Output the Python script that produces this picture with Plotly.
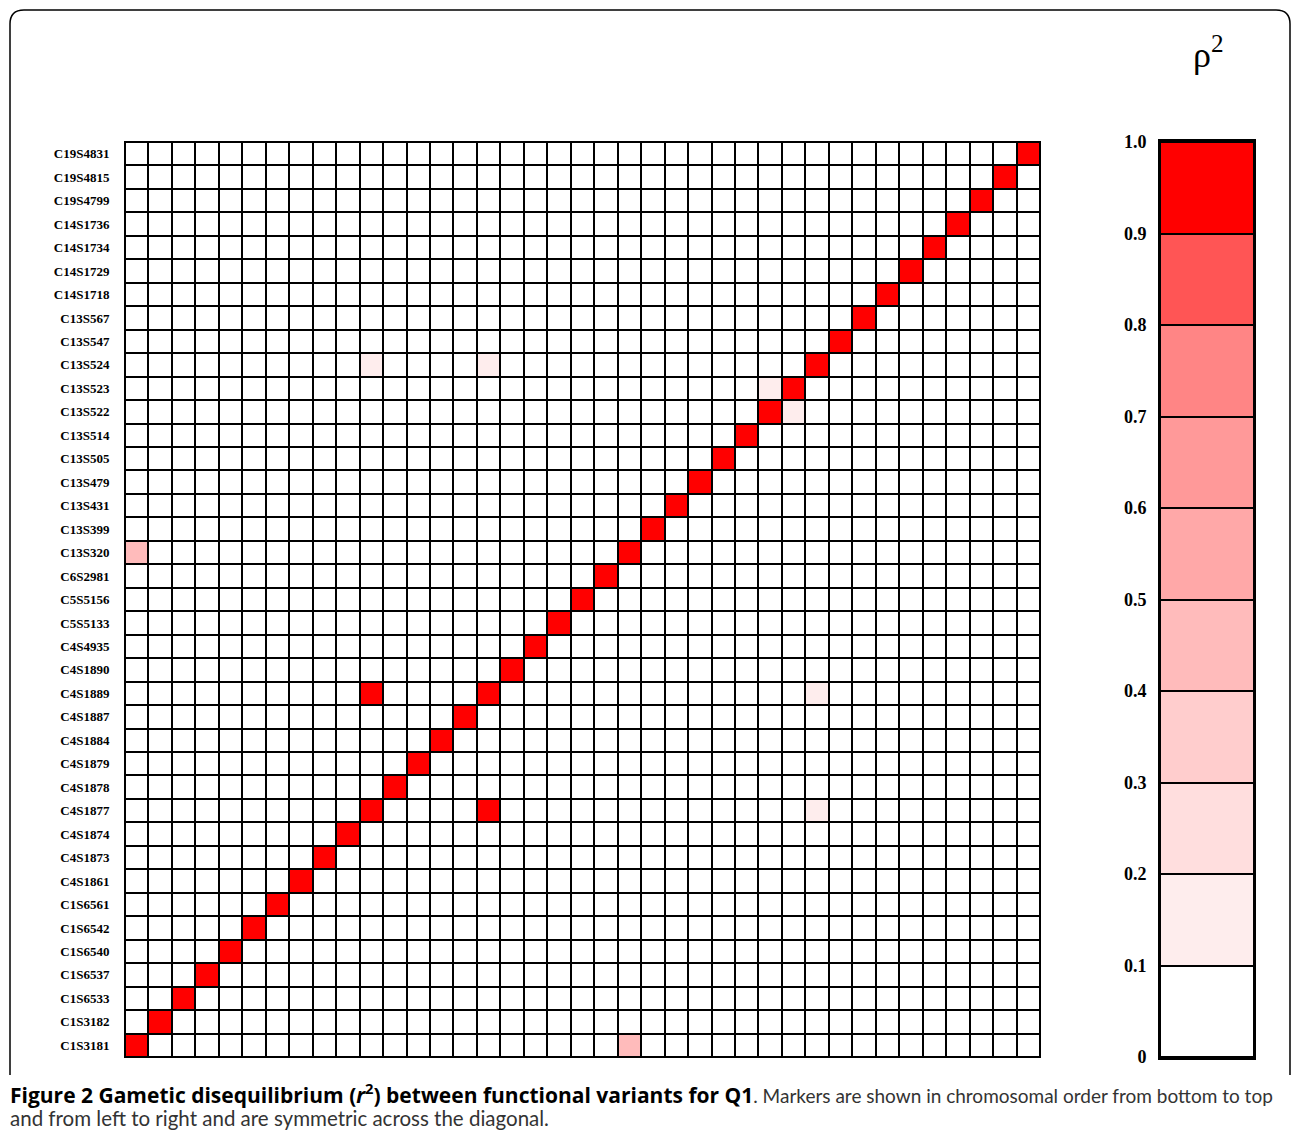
import plotly.graph_objects as go

# Markers, bottom (first) to top (last) / left to right
markers = [
    "C1S3181", "C1S3182", "C1S6533", "C1S6537", "C1S6540", "C1S6542", "C1S6561",
    "C4S1861", "C4S1873", "C4S1874", "C4S1877", "C4S1878", "C4S1879", "C4S1884",
    "C4S1887", "C4S1889", "C4S1890", "C4S4935", "C5S5133", "C5S5156", "C6S2981",
    "C13S320", "C13S399", "C13S431", "C13S479", "C13S505", "C13S514", "C13S522",
    "C13S523", "C13S524", "C13S547", "C13S567", "C14S1718", "C14S1729", "C14S1734",
    "C14S1736", "C19S4799", "C19S4815", "C19S4831",
]

# Off-diagonal pairs with non-negligible r^2 (symmetric)
pair_a = ["C13S320", "C13S524", "C13S524", "C13S523", "C4S1889"]
pair_b = ["C1S3181", "C4S1877", "C4S1889", "C13S522", "C4S1877"]
pair_r2 = [0.45, 0.15, 0.15, 0.15, 1.0]
diag_r2 = 1.0

# Legend bands
band_colors = ["#FFFFFF", "#FEEDED", "#FFDEDE", "#FFCDCD", "#FFBBBB",
               "#FFA8A8", "#FF9999", "#FF8585", "#FF5555", "#FF0000"]
band_mids = [0.05, 0.15, 0.25, 0.35, 0.45, 0.55, 0.65, 0.75, 0.85, 0.95]
band_ticks = [0, 0.1, 0.2, 0.3, 0.4, 0.5, 0.6, 0.7, 0.8, 0.9, 1.0]
band_ticktext = ["0", "0.1", "0.2", "0.3", "0.4", "0.5", "0.6", "0.7", "0.8", "0.9", "1.0"]

n = len(markers)
idx = {m: i for i, m in enumerate(markers)}
z = [[0.0] * n for _ in range(n)]
for i in range(n):
    z[i][i] = diag_r2
for a, b, v in zip(pair_a, pair_b, pair_r2):
    z[idx[a]][idx[b]] = v
    z[idx[b]][idx[a]] = v

colorscale = []
for i, c in enumerate(band_colors):
    colorscale.append([i / 10, c])
    colorscale.append([(i + 1) / 10, c])

W, H = 1292, 1134
def px(x):
    return x / W
def py(y):
    return 1 - y / H

fig = go.Figure()
fig.add_trace(go.Heatmap(
    z=z, x=markers, y=markers, colorscale=colorscale, zmin=0, zmax=1,
    xgap=2, ygap=2, showscale=False, hoverinfo="skip",
    xaxis="x", yaxis="y",
))
fig.add_trace(go.Heatmap(
    z=[[v] for v in band_mids], x=[0], y=band_mids, colorscale=colorscale,
    zmin=0, zmax=1, ygap=2, showscale=False, hoverinfo="skip",
    xaxis="x2", yaxis="y2",
))

serif = "Liberation Serif"
fig.update_layout(
    width=W, height=H,
    margin=dict(l=0, r=0, t=0, b=0, pad=0, autoexpand=False),
    paper_bgcolor="white", plot_bgcolor="black",
    showlegend=False,
    xaxis=dict(domain=[px(125), px(1040)], type="category", showticklabels=False,
               ticks="", showgrid=False, zeroline=False, showline=True, mirror=True,
               linecolor="black", linewidth=1, automargin=False),
    yaxis=dict(domain=[py(1057), py(142)], type="category", ticks="",
               showgrid=False, zeroline=False, showline=True, mirror=True,
               linecolor="black", linewidth=1, ticklabelstandoff=12, automargin=False,
               tickfont=dict(family=serif, size=13, color="black", weight="bold")),
    xaxis2=dict(domain=[px(1161), px(1253)], showticklabels=False, ticks="",
                showgrid=False, zeroline=False, showline=True, mirror=True,
                linecolor="black", linewidth=3, anchor="y2", range=[-0.5, 0.5],
                automargin=False),
    yaxis2=dict(domain=[py(1057), py(142)], anchor="x2", range=[0, 1],
                tickvals=band_ticks, ticktext=band_ticktext, ticks="",
                showgrid=False, zeroline=False, showline=True, mirror=True,
                linecolor="black", linewidth=3, ticklabelstandoff=8, automargin=False,
                tickfont=dict(family=serif, size=18, color="black", weight="bold")),
)

fig.add_annotation(xref="paper", yref="paper", x=px(1208), y=py(53),
                   text="ρ<sup>2</sup>", showarrow=False,
                   font=dict(family=serif, size=36, color="black"),
                   xanchor="center", yanchor="middle")

cap_font = dict(family="Lato", size=19, color="#333333")
bold_part = ("<span style='font-family:\"Open Sans\"; font-size:21px; font-weight:bold; color:#000000'>"
             "Figure 2 Gametic disequilibrium (<i>r</i><sup>2</sup>) "
             "between functional variants for Q1</span>")
fig.add_annotation(xref="paper", yref="paper", x=px(8), y=py(1093),
                   text=bold_part + ". Markers are shown in chromosomal order from bottom to top",
                   showarrow=False, xanchor="left", yanchor="middle", font=cap_font)
fig.add_annotation(xref="paper", yref="paper", x=px(8), y=py(1118),
                   text="and from left to right and are symmetric across the diagonal.",
                   showarrow=False, xanchor="left", yanchor="middle",
                   font=dict(family="Lato", size=20.5, color="#333333"))

# Rounded frame (open at the bottom)
pts = (f"M {px(10)},{py(1075)} L {px(10)},{py(24)} Q {px(10)},{py(10)} {px(24)},{py(10)} "
       f"L {px(1276)},{py(10)} Q {px(1290)},{py(10)} {px(1290)},{py(24)} L {px(1290)},{py(1075)}")
fig.add_shape(type="path", xref="paper", yref="paper", path=pts,
              line=dict(color="black", width=1.5))

fig.write_html("out.html", config={"displayModeBar": False},
               post_script="document.body.style.margin='0';")
